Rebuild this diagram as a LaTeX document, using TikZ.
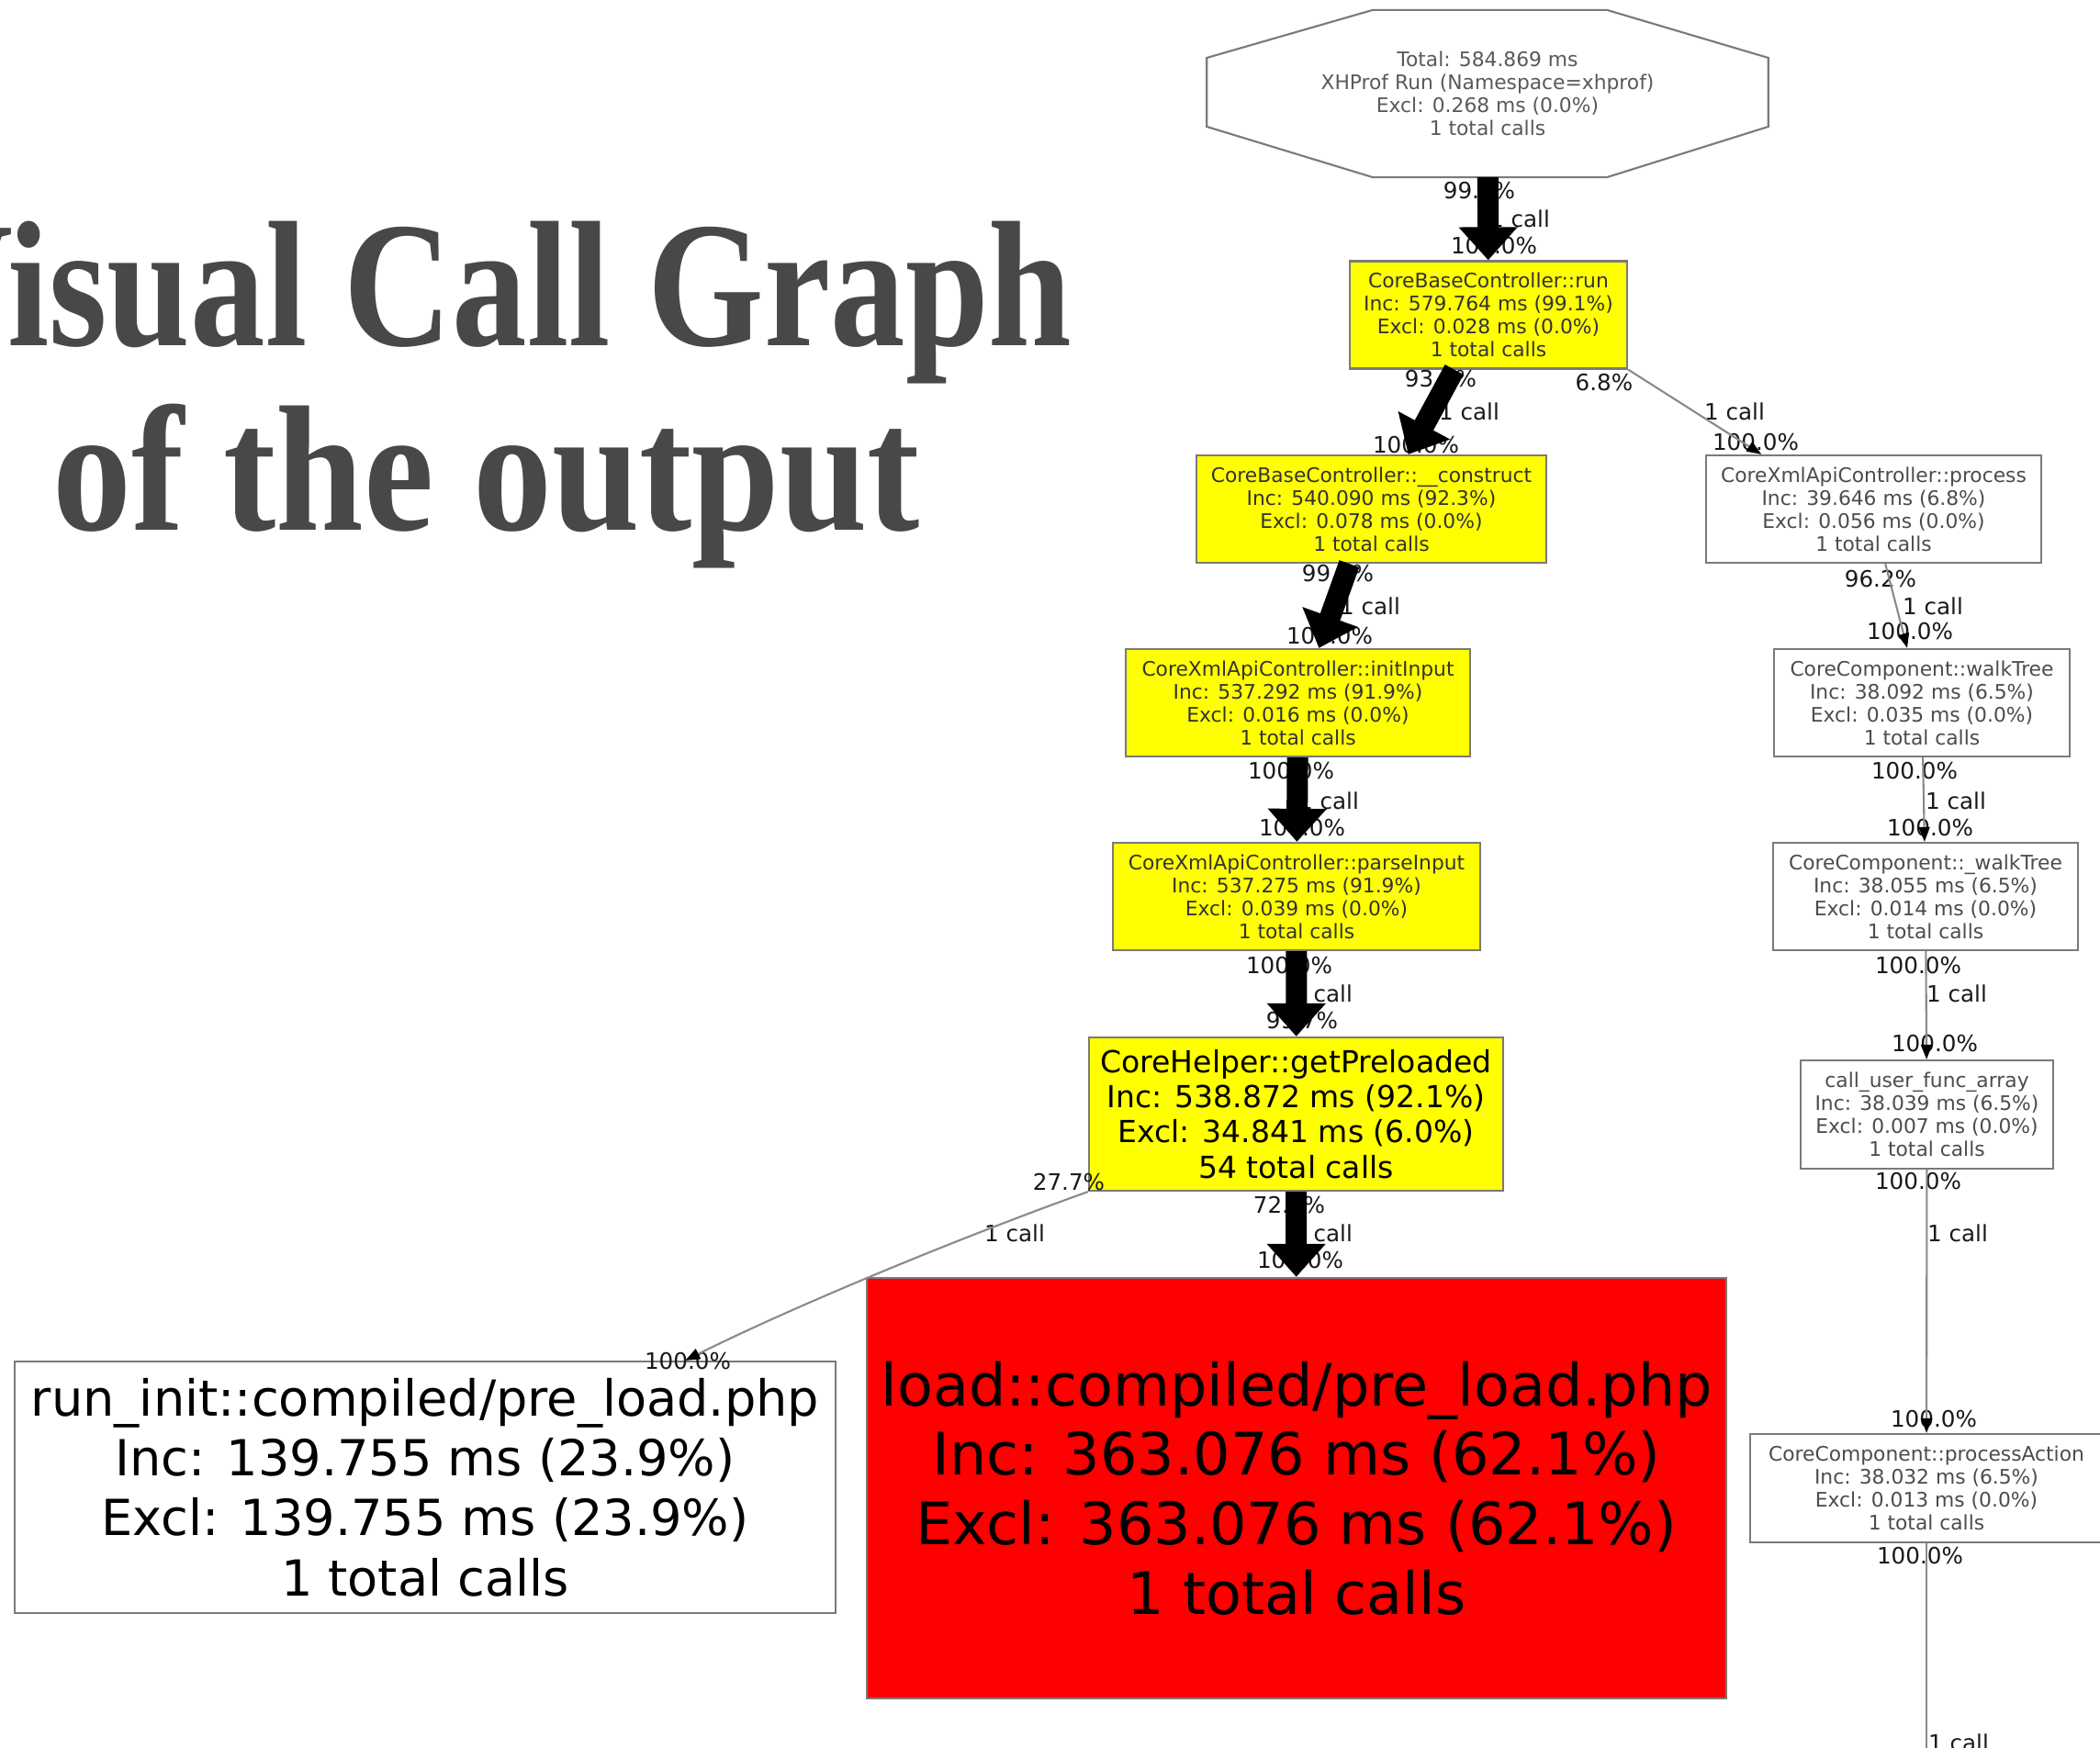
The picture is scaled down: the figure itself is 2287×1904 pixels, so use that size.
\documentclass[tikz,border=0pt]{standalone}
\usepackage{fontspec}
\newfontfamily\dvs{DejaVu Sans}
\newfontfamily\titlefont{Liberation Serif}[FakeStretch=0.835]
\newfontfamily\titlefontb{Liberation Serif}[FakeStretch=0.88]
\usepackage{tikz}
\usetikzlibrary{arrows.meta,calc}
\definecolor{hotyellow}{HTML}{FFFF00}
\definecolor{hotred}{HTML}{FF0000}
\definecolor{boxline}{HTML}{7A7A7A}
\definecolor{edgegray}{HTML}{8A8A8A}
\definecolor{titlegray}{HTML}{484848}
\tikzset{fn/.style={draw=boxline,line width=.6pt,fill=white,align=center,inner sep=0pt,text=black!70,font=\dvs\fontsize{6.2}{7.1}\selectfont},hot/.style={fn,fill=hotyellow,text=black!80},hotarr/.style={line width=.23cm,-{Triangle[length=.36cm,width=.62cm]}},callln/.style={draw=edgegray,line width=.6pt,-{Triangle[length=.16cm,width=.12cm,color=black,fill=black]}},elab/.style={font=\dvs\fontsize{7}{8}\selectfont,inner sep=0pt,text=black!90}}

\begin{document}
\begin{tikzpicture}[x=.01cm,y=-.01cm,
ttl/.style={font=\titlefont\bfseries\fontsize{55.5}{60}\selectfont,text=titlegray,anchor=base,inner sep=0pt},
bigfn/.style={fn,text=black}]
\useasboundingbox (0,0) rectangle (2287,1904);
\fill[white] (0,0) rectangle (2287,1904);
\node[ttl] (ttl1) at (532,377) {Visual Call Graph};
\node[ttl,font=\titlefontb\bfseries\fontsize{55.5}{60}\selectfont] (ttl2) at (530,578) {of the output};
% call graph nodes
\node[fn,draw=none,fill=none,text=black!65,minimum width=6.09cm,minimum height=1.8cm] (root) at (1620,102) {Total: 584.869 ms\\XHProf Run (Namespace=xhprof)\\Excl: 0.268 ms (0.0\%)\\1 total calls};
\draw[boxline,line width=.6pt] ($(root.north)+(-125,0)$)--($(root.north)+(130,0)$)--($(root.east)+(0,-39)$)--($(root.east)+(0,36)$)--($(root.south)+(130,0)$)--($(root.south)+(-125,0)$)--($(root.west)+(0,36)$)--($(root.west)+(0,-39)$)--cycle;
\node[hot,minimum width=3.02cm,minimum height=1.17cm] (run) at (1621,343) {CoreBaseController::run\\Inc: 579.764 ms (99.1\%)\\Excl: 0.028 ms (0.0\%)\\1 total calls};
\node[hot,minimum width=3.81cm,minimum height=1.17cm] (construct) at (1493.5,554.5) {CoreBaseController::\_\_construct\\Inc: 540.090 ms (92.3\%)\\Excl: 0.078 ms (0.0\%)\\1 total calls};
\node[fn,minimum width=3.65cm,minimum height=1.17cm] (process) at (2040.5,554.5) {CoreXmlApiController::process\\Inc: 39.646 ms (6.8\%)\\Excl: 0.056 ms (0.0\%)\\1 total calls};
\node[hot,minimum width=3.75cm,minimum height=1.17cm] (initin) at (1413.5,765.5) {CoreXmlApiController::initInput\\Inc: 537.292 ms (91.9\%)\\Excl: 0.016 ms (0.0\%)\\1 total calls};
\node[fn,minimum width=3.22cm,minimum height=1.17cm] (walk) at (2093,765.5) {CoreComponent::walkTree\\Inc: 38.092 ms (6.5\%)\\Excl: 0.035 ms (0.0\%)\\1 total calls};
\node[hot,minimum width=4cm,minimum height=1.17cm] (parse) at (1412,976.5) {CoreXmlApiController::parseInput\\Inc: 537.275 ms (91.9\%)\\Excl: 0.039 ms (0.0\%)\\1 total calls};
\node[fn,minimum width=3.31cm,minimum height=1.17cm] (walk2) at (2097,976.5) {CoreComponent::\_walkTree\\Inc: 38.055 ms (6.5\%)\\Excl: 0.014 ms (0.0\%)\\1 total calls};
\node[hot,text=black,font=\dvs\fontsize{9.4}{10.9}\selectfont,minimum width=4.51cm,minimum height=1.67cm] (preload) at (1411.5,1213.5) {CoreHelper::getPreloaded\\Inc: 538.872 ms (92.1\%)\\Excl: 34.841 ms (6.0\%)\\54 total calls};
\node[fn,minimum width=2.75cm,minimum height=1.18cm] (cufa) at (2098.5,1214) {call\_user\_func\_array\\Inc: 38.039 ms (6.5\%)\\Excl: 0.007 ms (0.0\%)\\1 total calls};
\node[bigfn,font=\dvs\fontsize{15.4}{18.6}\selectfont,minimum width=8.94cm,minimum height=2.74cm] (runinit) at (463,1620) {run\_init::compiled/pre\_load.php\\Inc: 139.755 ms (23.9\%)\\Excl: 139.755 ms (23.9\%)\\1 total calls};
\node[bigfn,fill=hotred,font=\dvs\fontsize{18.1}{21.5}\selectfont,minimum width=9.36cm,minimum height=4.58cm] (load) at (1412,1621) {load::compiled/pre\_load.php\\Inc: 363.076 ms (62.1\%)\\Excl: 363.076 ms (62.1\%)\\1 total calls};
\node[fn,minimum width=3.84cm,minimum height=1.18cm] (procact) at (2098,1621) {CoreComponent::processAction\\Inc: 38.032 ms (6.5\%)\\Excl: 0.013 ms (0.0\%)\\1 total calls};
\coordinate (offpage) at (2098,1960);
% edge labels (under the arrows)
\foreach \nm/\x/\y/\t in {r1/1611/208/99.1\%,r2/1655/238/1 call,r3/1627/268/100.0\%,
c1/1569/413/93.2\%,c2/1600/448/1 call,c3/1542/485/100.0\%,
p1/1747/417/6.8\%,p2/1889/448/1 call,p3/1912/482/100.0\%,
i1/1457/625/99.5\%,i2/1492/660/1 call,i3/1448/693/100.0\%,
w1/2048/631/96.2\%,w2/2105/660/1 call,w3/2080/688/100.0\%,
q1/1406/840/100.0\%,q2/1447/872/1 call,q3/1418/902/100.0\%,
v1/2085/840/100.0\%,v2/2130/872/1 call,v3/2102/902/100.0\%,
g1/1404/1052/100.0\%,g2/1440/1082/1 call,g3/1418/1112/99.7\%,
u1/2089/1052/100.0\%,u2/2131/1082/1 call,u3/2107/1137/100.0\%,
l1/1404/1313/72.0\%,l2/1440/1343/1 call,l3/1416/1373/100.0\%,
s1/1164/1288/27.7\%,s2/1105/1343/1 call,s3/749/1483/100.0\%,
a1/2089/1287/100.0\%,a2/2132/1343/1 call,a3/2106/1546/100.0\%,
o1/2091/1695/100.0\%,o2/2133/1898/1 call}{
  \node[elab] (\nm) at (\x,\y) {\t};
}
% calls
\draw[hotarr] (root)--(run);
\draw[hotarr] (run.238.6)--(construct.56.7);
\draw[callln] (run.south east)--(process.154.7);
\draw[hotarr] (construct.248.1)--(initin.69);
\draw[callln] (process.282.1)--(walk.105.3);
\draw[hotarr] (initin)--(parse);
\draw[callln] (walk)--(walk2);
\draw[hotarr] (parse)--(preload);
\draw[callln] (walk2)--(cufa);
\draw[hotarr] (preload)--(load);
\draw[callln] (preload.south west) .. controls (1040,1350) and (860,1425) .. (runinit.26.3);
\draw[callln] (cufa)--(procact);
\draw[callln,-] (procact)--(offpage);
\end{tikzpicture}
\end{document}
